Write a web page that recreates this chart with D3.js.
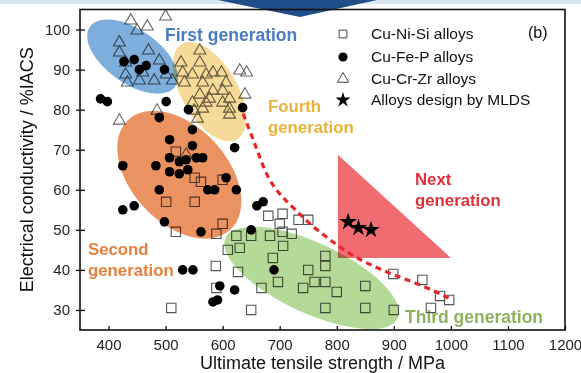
<!DOCTYPE html>
<html><head><meta charset="utf-8">
<script src="https://cdn.jsdelivr.net/npm/d3@7/dist/d3.min.js"></script>
<style>body{margin:0;background:#fff}svg{display:block}</style>
</head><body><svg id="c" width="581" height="373"></svg>
<script>
// ---- data (x: MPa, y: %IACS) ----
const cuNiSi = [[518,69.5],[551,63],[562,62],[600,62.5],[501,57],[551,57],[600,51.5],[518,49.5],[589,49],[510,30.5],[588,41],[627,39.5],[609,45],[630,45.5],[589,35.5],[650,30],[668,35.5],[624,48.5],[650,48.5],[683,48.5],[688,43],[697,37],[680,53.5],[705,54],[700,51.5],[733,52.5],[750,52.5],[705,49.5],[721,49],[706,46],[780,43.5],[780,41],[750,40],[741,35.5],[761,37],[780,37],[800,34.5],[850,36],[780,30.5],[850,30.5],[900,30],[899,39],[950,37.5],[981,33.5],[997,32.5],[965,30.5]];
const cuFeP = [[427,92],[445,92.5],[454,90],[466,91],[498,90],[386,82.7],[398,82],[501,82],[540,80],[635,80.5],[547,75],[507,72.5],[621,70.5],[489,78],[547,71],[425,66],[483,66],[507,68],[524,67],[536,67.5],[554,68],[565,68],[507,64.5],[524,64],[539,65],[489,60],[574,60],[586,60],[624,60],[606,63],[425,55],[445,56],[498,52],[562,49.5],[660,56],[671,57],[650,50],[690,40],[530,40],[548,40],[595,36],[583,32],[591,32.5],[621,35]];
const cuCrZr = [[439,102.5],[468,101],[450,100],[500,103.5],[419,97],[419,94.5],[470,95],[430,92],[430,89],[460,89.5],[489,92.5],[454,87.5],[433,87],[480,87.5],[501,89],[485,80],[419,77.5],[630,90],[642,89.5],[639,84],[560,95],[527,92],[560,92],[512,87.5],[530,89.5],[547,89],[571,89],[583,89.5],[598,89.5],[533,87],[565,87],[606,87],[583,85],[600,85],[560,84],[577,83],[612,83],[547,82],[600,82],[565,80.5],[612,80.5],[556,78],[612,79],[571,82],[550,80],[536,69]];
const mlds = [[820,52],[838,50.5],[860,50]];
const boundary = [[636,79],[648,74.5],[659,70.5],[669,66.5],[683,62],[702,58.5],[724,55.5],[752,51.5],[788,47.5],[824,43.8],[864,40.9],[899,38.8],[947,36.3],[996,33]];
const nextGen = [[802,68.75],[802,43],[1000,43]];
const xTicks = [400,500,600,700,800,900,1000,1100,1200];
const yTicks = [30,40,50,60,70,80,90,100];
const legendLabels = ["Cu-Ni-Si alloys","Cu-Fe-P alloys","Cu-Cr-Zr alloys","Alloys design by MLDS"];
const generations = [
  {name:"First",  cx:442, cy:93.25, rx:52, ry:27, a:35, fill:"rgb(118,170,218)"},
  {name:"Fourth", cx:577, cy:84.5,  rx:55, ry:28, a:60, fill:"rgb(246,216,146)"},
  {name:"Second", cx:524, cy:63.75, rx:75, ry:48, a:47, fill:"rgb(234,140,88)"},
  {name:"Third",  cx:756, cy:38,    rx:95, ry:35, a:25, fill:"rgb(176,216,146)"}
];

const svg = d3.select("#c");
const L=80, R=565, T=9.5, B=330;
const x = d3.scaleLinear().domain([350,1200]).range([L,R]);
const y = d3.scaleLinear().domain([25,105]).range([B,T]);
const font = "Liberation Sans, Arial, Helvetica, sans-serif";

// top decoration
svg.append("rect").attr("x",0).attr("y",0).attr("width",581).attr("height",4).attr("fill","#d8e6f3");
svg.append("path").attr("d","M218,0 L377,0 L300,17 Z").attr("fill","#1f4e89");

// points
const g = svg.append("g");
const sq = d3.symbol().type(d3.symbolSquare).size(88);
const tri = d3.symbol().type(d3.symbolTriangle).size(62);
const star = d3.symbol().type(d3.symbolStar).size(95);
g.selectAll(".s").data(cuNiSi).join("path").attr("d",sq)
  .attr("transform",d=>`translate(${x(d[0])},${y(d[1])})`).attr("fill","none").attr("stroke","#555").attr("stroke-width",1.1);
g.selectAll(".t").data(cuCrZr).join("path").attr("d",tri)
  .attr("transform",d=>`translate(${x(d[0])},${y(d[1])+1})`).attr("fill","none").attr("stroke","#666").attr("stroke-width",1.1);
g.selectAll(".c").data(cuFeP).join("circle").attr("cx",d=>x(d[0])).attr("cy",d=>y(d[1])).attr("r",4.8).attr("fill","#000");

// ellipses (overlay, multiplied so marks show through)
svg.append("g").selectAll("ellipse").data(generations).join("ellipse")
  .attr("transform",d=>`translate(${x(d.cx)},${y(d.cy)}) rotate(${d.a})`)
  .attr("rx",d=>d.rx).attr("ry",d=>d.ry).attr("fill",d=>d.fill)
  .style("mix-blend-mode","multiply").attr("opacity",0.95);

// next generation triangle
svg.append("path").attr("d",d3.line().x(d=>x(d[0])).y(d=>y(d[1]))(nextGen)+"Z")
  .attr("fill","rgb(240,108,112)").style("mix-blend-mode","multiply");

// stars
svg.append("g").selectAll("path").data(mlds).join("path").attr("d",star)
  .attr("transform",d=>`translate(${x(d[0])},${y(d[1])})`).attr("fill","#000");

// boundary dashed curve
svg.append("path").attr("d",d3.line().curve(d3.curveBasis).x(d=>x(d[0])).y(d=>y(d[1]))(boundary))
  .attr("fill","none").attr("stroke","#e8262a").attr("stroke-width",3.2).attr("stroke-dasharray","6,4.5");

// frame & axes
svg.append("rect").attr("x",L).attr("y",T).attr("width",R-L).attr("height",B-T)
  .attr("fill","none").attr("stroke","#111").attr("stroke-width",1.6);
const xa = svg.append("g").attr("transform",`translate(0,${B})`)
  .call(d3.axisBottom(x).tickValues(xTicks).tickFormat(d3.format("d")).tickSizeInner(-4).tickSizeOuter(0).tickPadding(9));
const ya = svg.append("g").attr("transform",`translate(${L},0)`)
  .call(d3.axisLeft(y).tickValues(yTicks).tickFormat(d3.format("d")).tickSizeInner(-5).tickSizeOuter(0).tickPadding(10));
[xa,ya].forEach(a=>{a.select(".domain").remove();
  a.selectAll("line").attr("stroke","#111").attr("stroke-width",1.3);
  a.selectAll("text").attr("font-family",font).attr("font-size",15).attr("fill","#222");});
ya.selectAll(".tick").append("line").attr("x1",-4).attr("x2",0).attr("stroke","#111").attr("stroke-width",1.3);

// axis titles
svg.append("text").attr("x",(L+R)/2).attr("y",369).attr("text-anchor","middle")
  .attr("font-family",font).attr("font-size",18).attr("fill","#111").text("Ultimate tensile strength / MPa");
svg.append("text").attr("transform",`translate(33,${(T+B)/2}) rotate(-90)`).attr("text-anchor","middle")
  .attr("font-family",font).attr("font-size",18).attr("fill","#111").text("Electrical conductivity / %IACS");

// legend
const lg = svg.append("g");
const lsyms = [d3.symbol().type(d3.symbolSquare).size(60), null, d3.symbol().type(d3.symbolTriangle).size(55), d3.symbol().type(d3.symbolStar).size(70)];
const ly = [33,56,78,99];
legendLabels.forEach((t,i)=>{
  if(i===1) lg.append("circle").attr("cx",343).attr("cy",ly[i]+1).attr("r",4.6).attr("fill","#000");
  else lg.append("path").attr("d",lsyms[i]).attr("transform",`translate(343,${ly[i]+1})`)
     .attr("fill",i===3?"#000":"none").attr("stroke",i===3?"none":"#444").attr("stroke-width",1);
  lg.append("text").attr("x",371).attr("y",ly[i]+6).attr("font-family",font).attr("font-size",15.5).attr("fill","#111").text(t);
});
svg.append("text").attr("x",528).attr("y",38).attr("font-family",font).attr("font-size",16).attr("fill","#111").text("(b)");

// annotations
const ann = [
  {t:["First generation"], x:165, y:41, c:"#4a7cc0", s:17.5},
  {t:["Fourth","generation"], x:268, y:112, c:"#e8b33a", s:16.8},
  {t:["Second","generation"], x:88, y:255, c:"#e87f3b", s:16.8},
  {t:["Next","generation"], x:415, y:185, c:"#e0313a", s:16.8},
  {t:["Third generation"], x:405, y:323, c:"#8db35d", s:17.5}
];
ann.forEach(a=>{
  const tx = svg.append("text").attr("font-family",font).attr("font-weight","bold").attr("font-size",a.s).attr("fill",a.c);
  a.t.forEach((s,i)=>tx.append("tspan").attr("x",a.x).attr("y",a.y+i*21).text(s));
});
</script></body></html>
